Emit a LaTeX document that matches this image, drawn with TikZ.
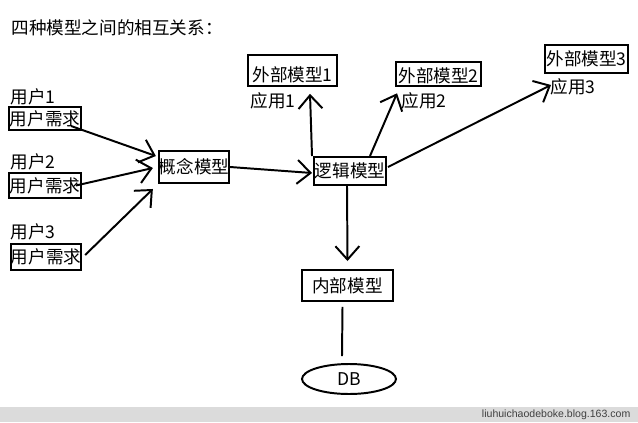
\documentclass[tikz,border=0pt]{standalone}
\usepackage{fontspec}
\usepackage{xcolor}
\usetikzlibrary{arrows.meta,calc,shapes.geometric}
\setmainfont{Noto Sans CJK SC}
\newfontfamily\footfont{Liberation Sans}

\begin{document}
\begin{tikzpicture}[x=0.025cm, y=-0.025cm,
        every node/.style={font=\fontsize{12.5}{14}\selectfont, inner sep=1pt},
        box/.style={draw, line width=1.4pt, rectangle, inner xsep=0pt},
        conn/.style={line width=1.4pt, -{Straight Barb[length=9.5pt,width=17pt,line width=1.4pt]}}]
        \useasboundingbox (0,0) rectangle (638,422);
        \node[anchor=west] (title) at (10,28) {四种模型之间的相互关系：};
        \node[anchor=west] (u1lab) at (9,97) {用户1};
        \node[box, minimum width=72*0.025cm, minimum height=23*0.025cm] (u1) at (45,118.5) {用户需求};
        \node[anchor=west] (u2lab) at (9,162) {用户2};
        \node[box, minimum width=72*0.025cm, minimum height=25*0.025cm] (u2) at (45,185.5) {用户需求};
        \node[anchor=west] (u3lab) at (9,232) {用户3};
        \node[box, minimum width=70*0.025cm, minimum height=26*0.025cm] (u3) at (46,257) {用户需求};
        \node[box, minimum width=70*0.025cm, minimum height=32*0.025cm] (c) at (194,167) {概念模型};
        \node[box, minimum width=72*0.025cm, minimum height=28*0.025cm] (l) at (350,171) {逻辑模型};
        \node[box, minimum width=89*0.025cm, text height=25*0.025cm, text depth=2pt] (e1) at (292.5,70.5) {外部模型1};
        \node[anchor=west] (a1) at (249,101) {应用1};
        \node[box, minimum width=85*0.025cm, text height=19*0.025cm, text depth=2pt] (e2) at (438.5,74) {外部模型2};
        \node[anchor=west] (a2) at (400,101) {应用2};
        \node[box, minimum width=83*0.025cm, minimum height=28*0.025cm] (e3) at (586.5,59) {外部模型3};
        \node[anchor=west] (a3) at (549,87) {应用3};
        \node[box, minimum width=91*0.025cm, minimum height=31*0.025cm] (i) at (347.5,285.5) {内部模型};
        \node[draw, ellipse, line width=1.4pt, minimum width=94*0.025cm, minimum height=30*0.025cm] (db) at (349,379) {DB};
        \draw[conn] ($(u1.south east)+(-11,-5)$) -- ($(c.north west)+(-2,6)$);
        \draw[conn] ($(u2.east)+(-6,0)$) -- ($(c.west)+(-5,1)$);
        \draw[conn] ($(u3.east)+(3,-2)$) -- ($(c.south west)+(-5,5)$);
        \draw[conn] (c.east) -- ($(l.west)+(-1,2)$);
        \draw[conn] ($(l.north west)+(-1,0)$) -- ($(e1.south)+(17.5,7)$);
        \draw[conn] ($(l.north)+(20,0)$) -- ($(e2.south west)+(2,6)$);
        \draw[conn] ($(l.east)+(1,-4)$) -- ($(e3.south west)+(7,11)$);
        \draw[conn] ($(l.south)+(-3,0)$) -- ($(i.north)+(0,-8)$);
        \draw[line width=1.4pt] ($(i.south)+(-5,5)$) -- ($(db.north)+(-7,-7)$);
        \fill[gray!28] (0,407) rectangle (638,422);
        \node[anchor=east, font=\footfont\fontsize{7.5}{8}\selectfont, text=black!75] (site) at (632,414.5) {liuhuichaodeboke.blog.163.com};
    \end{tikzpicture}
\end{document}
